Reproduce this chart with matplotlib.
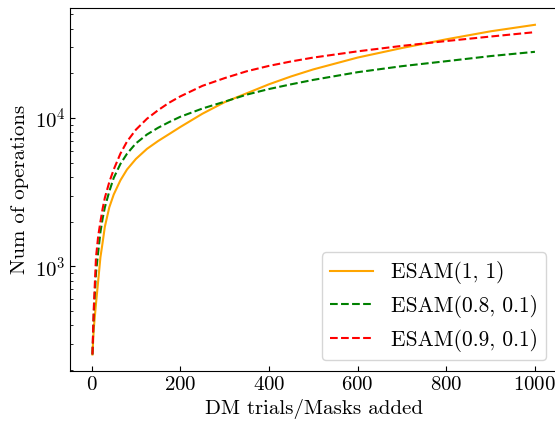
import numpy as np
import matplotlib
matplotlib.use("Agg")
import matplotlib.pyplot as plt

plt.rcParams["font.family"] = "serif"
plt.rcParams["font.serif"] = ["cmr10"]
plt.rcParams["mathtext.fontset"] = "cm"
plt.rcParams["axes.formatter.use_mathtext"] = True
plt.rcParams["font.size"] = 15

# number of DM trials / masks added
trials = [2, 5, 10, 15, 20, 25, 30, 40, 50, 65, 80, 100, 125, 150, 175, 200,
          250, 300, 350, 400, 450, 500, 600, 700, 800, 900, 1000]

# operation counts for each ESAM setting
ops_1_1 = [254, 380, 560, 800, 1150, 1450, 1850, 2500, 3050, 3800, 4500,
           5300, 6200, 7000, 7800, 8700, 10700, 12800, 14700, 16900, 19100,
           21300, 25600, 29700, 34000, 38500, 42600]
ops_08_01 = [254, 480, 900, 1250, 1700, 2100, 2500, 3200, 3950, 4900, 5750,
             6750, 7750, 8600, 9400, 10200, 11600, 12900, 14400, 15700,
             16900, 18100, 20400, 22400, 24200, 26200, 28000]
ops_09_01 = [254, 520, 1150, 1600, 2000, 2450, 2900, 3700, 4500, 5750, 6950,
             8350, 9900, 11300, 12700, 14000, 16500, 18600, 20700, 22500,
             24100, 25600, 28200, 30700, 33100, 35500, 38000]

fig = plt.figure(figsize=(5.55, 4.22), dpi=100)
ax = fig.add_axes([0.1267, 0.1209, 0.877, 0.8594])

ax.plot(trials, ops_1_1, color="orange", lw=1.5, label="ESAM(1, 1)")
ax.plot(trials, ops_08_01, color="green", lw=1.5, ls="--", label="ESAM(0.8, 0.1)")
ax.plot(trials, ops_09_01, color="red", lw=1.5, ls="--", label="ESAM(0.9, 0.1)")

ax.set_yscale("log")
ax.set_xticks([0, 200, 400, 600, 800, 1000])
ax.tick_params(which="both", direction="in")
ax.set_xlabel("DM trials/Masks added")
ax.set_ylabel("Num of operations")
ax.legend(loc="lower right", fontsize=15.5)

fig.savefig("out.png", dpi=100)
